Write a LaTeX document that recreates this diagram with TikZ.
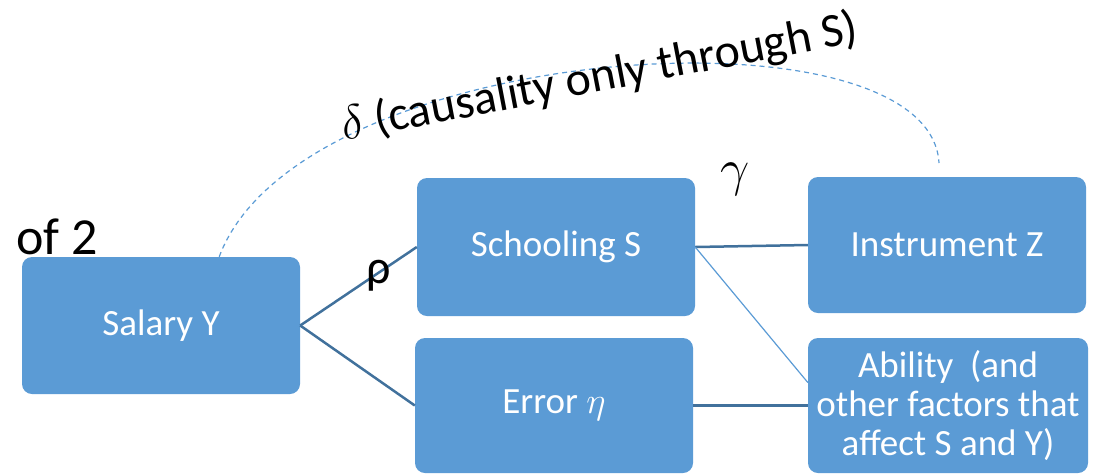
\RequirePackage{fix-cm}
\documentclass[tikz,border=0pt]{standalone}
\usepackage{fontspec}
\setmainfont{Carlito}
\usetikzlibrary{calc}

\definecolor{boxblue}{RGB}{91,155,213}
\definecolor{linkblue}{RGB}{65,113,156}

\tikzset{
  factor/.style={rectangle, rounded corners=10pt, fill=boxblue, draw=none,
    text=white, inner sep=0pt, minimum width=278pt, minimum height=136pt,
    align=center, font=\fontsize{37}{39}\selectfont},
  link/.style={draw=linkblue, line width=2.5pt},
  thinlink/.style={draw=boxblue, line width=1.2pt},
  dashlink/.style={draw=boxblue, line width=1.2pt, dash pattern=on 5pt off 4pt},
  coef/.style={text=black, inner sep=0pt, font=\fontsize{48}{56}\selectfont}
}

\begin{document}
\begin{tikzpicture}[x=1pt, y=-1pt]
  \useasboundingbox (0,0) rectangle (1097,475);

  % variables
  \node[factor, minimum height=137pt] (sal) at (161,325.5) {Salary Y};
  \node[factor, minimum height=138pt] (sch) at (556,247) {Schooling S};
  \node[factor, minimum height=135pt] (err) at (554,405.5) {Error $\eta$};
  \node[factor] (ins) at (947,245) {Instrument Z};
  \node[factor, minimum width=280pt, minimum height=135pt] (abi) at (948,405.5)
    {Ability\ \ (and\\other factors that\\affect S and Y)};

  % links between variables
  \draw[link] (sal.east) -- (sch.west);
  \draw[link] (sal.east) -- (err.west);
  \draw[link] (sch.east) -- (ins.west);
  \draw[link] (err.east) -- (abi.west);
  \draw[thinlink] (sch.east) -- ($(abi.north west)!0.33!(abi.south west)$);

  % exclusion restriction arc
  \coordinate (arcstart) at ($(sal.north west)!0.709!(sal.north east)$);
  \coordinate (arcend) at (939,163);
  \draw[dashlink] (arcstart) .. controls (300,40) and (930,0) .. (arcend);

  % labels
  \node[coef, anchor=base west, font=\fontsize{52}{60}\selectfont] (oftwo) at (16,254) {of 2};
  \node[coef, anchor=base west] (rho) at (366,283) {ρ};
  \node[coef, anchor=base west, font=\fontsize{52}{60}\selectfont] (gam) at (720,185) {$\gamma$};
  \node[coef, anchor=base west, rotate=10.9] (delta) at (344,141)
    {$\delta$ (causality only through S)};
\end{tikzpicture}
\end{document}
